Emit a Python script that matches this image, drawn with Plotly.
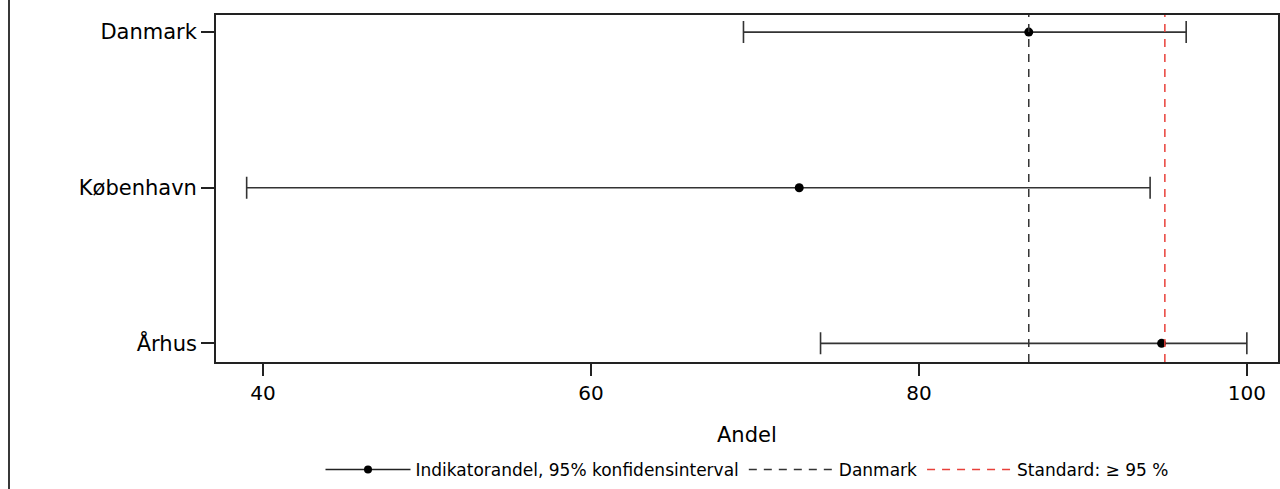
import plotly.graph_objects as go

categories = ["Danmark", "København", "Århus"]
andel = [86.7, 72.7, 94.8]
lower = [69.3, 39.0, 74.0]
upper = [96.3, 94.1, 100.0]
danmark_ref = 86.7
standard = 95.0
x_ticks = [40, 60, 80, 100]
x_title = "Andel"

n = len(categories)
ypos = [n - 1 - i for i in range(n)]
y_range = [-0.12, n - 1 + 0.11]

FONT = "DejaVu Sans"
DASH = "8px,7px"
fig = go.Figure()

fig.add_trace(go.Scatter(
    x=andel, y=ypos, mode="markers",
    marker=dict(color="black", size=9),
    error_x=dict(type="data", symmetric=False,
                 array=[u - a for u, a in zip(upper, andel)],
                 arrayminus=[a - l for a, l in zip(andel, lower)],
                 color="#333333", thickness=1.6, width=11),
    showlegend=False, hoverinfo="skip"))

fig.add_trace(go.Scatter(
    x=[danmark_ref, danmark_ref], y=y_range, mode="lines",
    line=dict(color="#333333", width=1.5, dash=DASH),
    showlegend=False, hoverinfo="skip"))
fig.add_trace(go.Scatter(
    x=[standard, standard], y=y_range, mode="lines",
    line=dict(color="#e8403a", width=1.5, dash=DASH),
    showlegend=False, hoverinfo="skip"))

# legend entries
fig.add_trace(go.Scatter(x=[None], y=[None], mode="lines+markers",
                         name="Indikatorandel, 95% konfidensinterval",
                         line=dict(color="#222222", width=1.5),
                         marker=dict(color="black", size=8)))
fig.add_trace(go.Scatter(x=[None], y=[None], mode="lines", name="Danmark",
                         line=dict(color="#333333", width=1.5, dash=DASH)))
fig.add_trace(go.Scatter(x=[None], y=[None], mode="lines", name="Standard: ≥ 95 %",
                         line=dict(color="#e8403a", width=1.5, dash=DASH)))

fig.update_layout(
    width=1280, height=489,
    margin=dict(l=216, r=2, t=15, b=127, autoexpand=False),
    paper_bgcolor="white", plot_bgcolor="white",
    font=dict(family=FONT, color="black", size=20),
    xaxis=dict(range=[37.13, 101.9], tickvals=x_ticks, ticks="outside",
               ticklen=12, tickwidth=1.6, tickcolor="#222222",
               showgrid=False, zeroline=False, automargin=False,
               showline=True, linecolor="#222222", linewidth=1.8, mirror=True,
               tickfont=dict(size=20, family=FONT)),
    yaxis=dict(range=y_range, tickvals=ypos, ticktext=categories, ticks="outside",
               ticklen=13, tickwidth=1.6, tickcolor="#222222",
               showgrid=False, zeroline=False, automargin=False,
               showline=True, linecolor="#222222", linewidth=1.8, mirror=True,
               tickfont=dict(size=21, family=FONT)),
    legend=dict(orientation="h", x=0.5, xanchor="center", y=-0.311, yanchor="middle",
                font=dict(size=17, family=FONT), itemwidth=85,
                bgcolor="rgba(0,0,0,0)"),
    annotations=[dict(text=x_title, xref="paper", yref="paper", x=0.5, y=-0.21,
                      xanchor="center", yanchor="middle", showarrow=False,
                      font=dict(size=21, family=FONT, color="black"))],
    shapes=[dict(type="line", xref="paper", yref="paper",
                 x0=(9 - 216) / 1062, x1=(9 - 216) / 1062, y0=-0.4, y1=1.1,
                 line=dict(color="#222222", width=1.8))],
)

fig.write_html("out.html")
